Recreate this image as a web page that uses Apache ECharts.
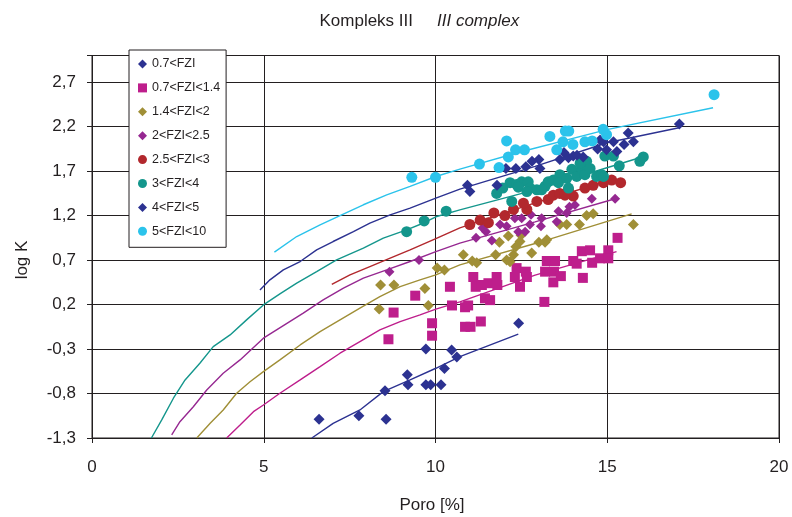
<!DOCTYPE html>
<html>
<head>
<meta charset="utf-8">
<script src="https://cdn.jsdelivr.net/npm/echarts@6/dist/echarts.min.js"></script>
<style>
  html, body { margin: 0; padding: 0; background: #fff; }
  #chart { width: 792px; height: 517px; }
</style>
</head>
<body>
<div id="chart"></div>
<script>
// Flow zone classes (FZI ranges)
const classNames = ['0.7<FZI', '0.7<FZI<1.4', '1.4<FZI<2', '2<FZI<2.5', '2.5<FZI<3', '3<FZI<4', '4<FZI<5', '5<FZI<10'];

// Measured samples: [porosity %, log K]
const pts07 = [[6.61,-1.09],[7.77,-1.05],[8.56,-1.09],[8.53,-0.77],[9.18,-0.59],[9.20,-0.70],[9.72,-0.70],[9.86,-0.70],[10.16,-0.70],[9.72,-0.30],[10.26,-0.52],[10.47,-0.31],[10.62,-0.39],[12.42,-0.01]];
const pts07to14 = [[8.63,-0.19],[8.78,0.11],[9.41,0.30],[9.90,-0.01],[9.90,-0.15],[10.42,0.40],[10.48,0.19],[10.86,0.17],[10.95,0.19],[10.86,-0.05],[11.02,-0.05],[11.32,0.01],[11.10,0.51],[11.17,0.40],[11.35,0.42],[11.44,0.27],[11.59,0.25],[11.54,0.44],[11.78,0.51],[11.80,0.42],[12.31,0.51],[12.36,0.61],[12.46,0.40],[12.63,0.57],[12.66,0.51],[13.17,0.23],[13.24,0.69],[13.19,0.57],[13.48,0.69],[13.45,0.57],[13.43,0.45],[13.65,0.52],[14.01,0.69],[14.11,0.66],[14.29,0.50],[14.26,0.80],[14.50,0.81],[14.56,0.67],[14.79,0.72],[15.03,0.81],[15.03,0.72],[15.30,0.95]];
const pts14to2 = [[8.40,0.42],[8.79,0.42],[8.36,0.15],[9.69,0.38],[9.79,0.19],[10.05,0.61],[10.26,0.59],[10.81,0.76],[11.07,0.69],[11.20,0.67],[11.75,0.76],[11.86,0.90],[12.12,0.97],[12.17,0.68],[12.27,0.76],[12.34,0.85],[12.46,0.91],[12.49,0.98],[12.80,0.78],[13.01,0.90],[13.19,0.90],[13.24,0.93],[13.62,1.10],[13.82,1.10],[14.19,1.10],[14.40,1.20],[14.59,1.22],[15.76,1.10],[12.07,0.70]];
const pts2to25 = [[8.66,0.57],[9.52,0.70],[11.18,0.95],[11.37,1.06],[11.47,1.02],[11.64,0.92],[11.88,1.10],[12.07,1.08],[12.31,1.17],[12.41,1.02],[12.51,1.17],[12.75,1.10],[12.78,1.21],[13.09,1.17],[13.07,1.08],[13.58,1.25],[13.82,1.23],[13.90,1.30],[14.06,1.32],[14.55,1.39],[15.23,1.39],[12.61,1.02],[13.53,1.13]];
const pts25to3 = [[11.00,1.10],[11.30,1.15],[11.54,1.12],[11.70,1.23],[12.02,1.20],[12.27,1.27],[12.66,1.27],[12.95,1.36],[13.28,1.38],[13.43,1.43],[13.62,1.45],[13.87,1.49],[14.01,1.42],[14.35,1.51],[14.59,1.54],[14.89,1.57],[15.13,1.60],[15.39,1.57],[12.56,1.34],[13.77,1.43]];
const pts3to4 = [[9.16,1.02],[9.67,1.14],[10.31,1.25],[11.78,1.45],[12.17,1.57],[12.22,1.36],[12.36,1.55],[12.51,1.58],[12.70,1.58],[12.75,1.51],[12.95,1.49],[13.19,1.53],[13.28,1.58],[13.43,1.60],[13.62,1.66],[13.58,1.57],[13.82,1.62],[13.97,1.72],[14.11,1.64],[14.26,1.72],[14.35,1.66],[14.40,1.81],[14.50,1.73],[14.69,1.64],[14.84,1.66],[14.93,1.87],[15.18,1.87],[15.35,1.76],[15.95,1.81],[16.05,1.86],[12.41,1.52],[12.66,1.47],[13.09,1.49],[13.87,1.51],[14.89,1.64],[14.21,1.79],[11.96,1.51]];
const pts4to5 = [[10.93,1.54],[11.00,1.47],[11.79,1.54],[12.05,1.73],[12.34,1.73],[12.63,1.75],[13.01,1.83],[13.04,1.73],[13.62,1.83],[13.74,1.91],[13.87,1.85],[14.01,1.87],[14.12,1.88],[14.30,1.86],[14.72,1.95],[14.89,2.03],[14.98,1.94],[15.18,2.03],[15.28,1.92],[15.49,2.00],[15.61,2.13],[15.76,2.03],[17.10,2.23],[14.79,2.05],[12.81,1.81]];
const pts5to10 = [[9.31,1.63],[10.00,1.63],[11.28,1.78],[11.85,1.74],[12.07,2.04],[12.12,1.86],[12.33,1.94],[12.59,1.94],[13.33,2.09],[13.53,1.94],[13.71,2.03],[13.78,2.15],[13.88,2.15],[14.00,2.00],[14.35,2.03],[14.56,2.04],[14.88,2.17],[14.98,2.11],[18.11,2.56]];

// Trend curves per class: [porosity %, log K]
const curve07 = [[6.40,-1.30],[7.02,-1.135],[7.80,-0.985],[8.48,-0.779],[9.26,-0.647],[10.01,-0.516],[10.71,-0.385],[12.41,-0.133]];
const curve07to14 = [[3.92,-1.30],[4.31,-1.154],[4.70,-1.004],[4.99,-0.929],[5.47,-0.797],[6.06,-0.647],[6.64,-0.498],[7.22,-0.347],[7.80,-0.216],[8.38,-0.085],[8.97,0.009],[9.55,0.084],[10.01,0.148],[10.71,0.23],[12.90,0.531],[15.27,0.796]];
const curve14to2 = [[3.05,-1.30],[3.44,-1.135],[3.82,-0.985],[4.21,-0.797],[4.60,-0.667],[4.99,-0.554],[5.47,-0.422],[6.06,-0.254],[6.64,-0.104],[7.22,0.028],[7.80,0.159],[8.38,0.290],[8.97,0.402],[9.55,0.478],[10.01,0.534],[10.71,0.647],[12.90,0.886],[15.71,1.22]];
const curve2to25 = [[2.32,-1.266],[2.56,-1.117],[2.95,-0.948],[3.34,-0.760],[3.82,-0.572],[4.31,-0.422],[4.99,-0.178],[6.15,0.103],[6.73,0.253],[7.32,0.384],[7.90,0.497],[8.58,0.590],[9.26,0.684],[10.01,0.796],[10.71,0.891],[12.90,1.13],[15.23,1.39]];
const curve25to3 = [[6.98,0.427],[7.51,0.534],[8.09,0.627],[8.68,0.722],[9.26,0.815],[10.01,0.942],[10.71,1.063],[12.90,1.344],[15.14,1.603]];
const curve3to4 = [[1.73,-1.30],[2.03,-1.097],[2.37,-0.853],[2.71,-0.647],[3.14,-0.459],[3.53,-0.273],[4.02,-0.141],[4.50,0.028],[4.99,0.196],[5.47,0.32],[5.96,0.441],[6.54,0.571],[7.12,0.703],[7.90,0.834],[8.48,0.947],[9.16,1.04],[9.67,1.12],[10.01,1.187],[10.71,1.265],[12.90,1.490],[14.99,1.738],[16.04,1.862]];
const curve4to5 = [[4.89,0.365],[5.18,0.478],[5.57,0.590],[6.06,0.684],[6.54,0.815],[7.02,0.909],[7.61,1.021],[8.09,1.116],[8.68,1.209],[9.26,1.285],[10.01,1.397],[10.71,1.498],[12.90,1.753],[14.99,2.019],[17.09,2.188]];
const curve5to10 = [[5.31,0.789],[5.96,0.965],[6.64,1.097],[7.22,1.201],[7.90,1.322],[8.58,1.434],[9.26,1.528],[10.01,1.640],[10.71,1.723],[12.49,1.918],[14.99,2.166],[18.08,2.413]];

// Axis ticks
const xTicks = [0, 5, 10, 15, 20];
const yTickMin = -1.3, yTickMax = 2.7, yTickStep = 0.5;

const pointSets = [pts07, pts07to14, pts14to2, pts2to25, pts25to3, pts3to4, pts4to5, pts5to10];
const curveSets = [curve07, curve07to14, curve14to2, curve2to25, curve25to3, curve3to4, curve4to5, curve5to10];

// Styling per class
const classColors = ['#2C3291', '#BE1E8C', '#A08F37', '#962891', '#B2282D', '#14968C', '#2C3291', '#2BC3EB'];
const classSymbols = ['diamond', 'rect', 'diamond', 'diamond', 'circle', 'circle', 'diamond', 'circle'];
const classSizes = [11, 10, 11, 10, 11, 11, 11, 11];

const textColor = '#231F20';
const fontFam = 'Liberation Sans, Arial, sans-serif';

const chart = echarts.init(document.getElementById('chart'), null, { renderer: 'canvas' });

const series = [];
curveSets.forEach((c, i) => {
  series.push({
    name: 'trend ' + classNames[i],
    type: 'line',
    data: c,
    showSymbol: false,
    symbol: 'none',
    silent: true,
    z: 2,
    lineStyle: { color: classColors[i], width: 1.4 },
    itemStyle: { color: classColors[i] }
  });
});
pointSets.forEach((p, i) => {
  series.push({
    name: classNames[i],
    type: 'scatter',
    data: p,
    symbol: classSymbols[i],
    symbolSize: classSizes[i],
    z: 3,
    itemStyle: { color: classColors[i], opacity: 1 }
  });
});

chart.setOption({
  animation: false,
  backgroundColor: '#ffffff',
  grid: {
    left: 92, right: 13, top: 55.5, bottom: 79,
    show: true, borderColor: '#231F20', borderWidth: 1, backgroundColor: 'transparent'
  },
  xAxis: {
    type: 'value',
    min: xTicks[0], max: xTicks[xTicks.length - 1], interval: 5,
    axisLine: { show: true, onZero: false, lineStyle: { color: '#231F20', width: 1 } },
    axisTick: { show: true, inside: false, length: 5, lineStyle: { color: '#231F20' } },
    axisLabel: { color: textColor, fontSize: 17, fontFamily: fontFam, margin: 21 },
    splitLine: { show: true, lineStyle: { color: '#231F20', width: 1 } }
  },
  yAxis: {
    type: 'value',
    min: yTickMin, max: 3.0, interval: yTickStep,
    axisLine: { show: true, onZero: false, lineStyle: { color: '#231F20', width: 1 } },
    axisTick: { show: true, inside: false, length: 5, lineStyle: { color: '#231F20' } },
    axisLabel: {
      color: textColor, fontSize: 17, fontFamily: fontFam, margin: 16,
      formatter: v => (v > yTickMax + 0.01 ? '' : (Math.round(v * 10) / 10).toFixed(1).replace('.', ','))
    },
    splitLine: { show: true, lineStyle: { color: '#231F20', width: 1 } }
  },
  legend: {
    data: classNames,
    orient: 'vertical',
    left: 129, top: 50,
    padding: [7, 6, 9, 9],
    itemGap: 9.9,
    itemWidth: 9, itemHeight: 9,
    backgroundColor: '#ffffff',
    borderColor: '#231F20', borderWidth: 1,
    textStyle: { color: textColor, fontSize: 12.5, lineHeight: 14, fontFamily: fontFam },
    selectedMode: false
  },
  graphic: [
    { type: 'text', x: 413, y: 21, style: { text: 'Kompleks III', font: '17px ' + fontFam, fill: textColor, textAlign: 'right', textVerticalAlign: 'middle' } },
    { type: 'text', x: 437, y: 21, style: { text: 'III complex', font: 'italic 17px ' + fontFam, fill: textColor, textAlign: 'left', textVerticalAlign: 'middle' } },
    { type: 'text', x: 22, y: 260, rotation: Math.PI / 2, style: { text: 'log K', font: '17px ' + fontFam, fill: textColor, textAlign: 'center', textVerticalAlign: 'middle' } },
    { type: 'text', x: 432, y: 505, style: { text: 'Poro [%]', font: '17px ' + fontFam, fill: textColor, textAlign: 'center', textVerticalAlign: 'middle' } }
  ],
  series: series
});
</script>
</body>
</html>
